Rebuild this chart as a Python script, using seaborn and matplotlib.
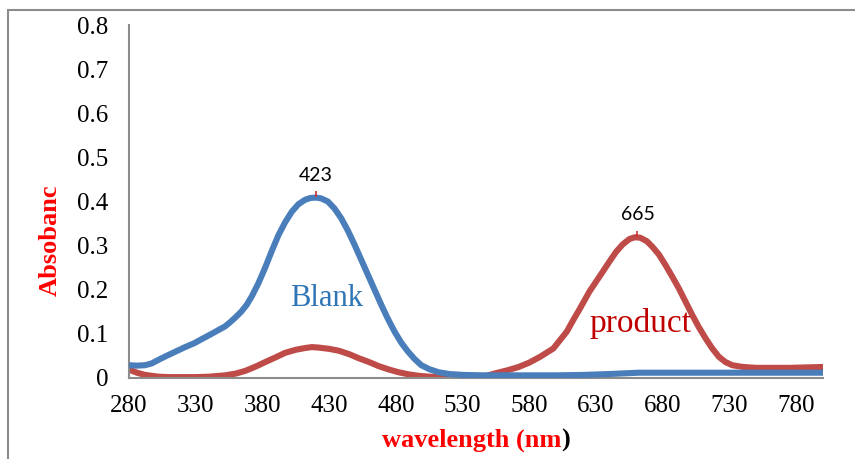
import matplotlib
matplotlib.use("Agg")
import matplotlib.pyplot as plt
import seaborn as sns
import pandas as pd
from matplotlib.patches import Rectangle

# ---- data ----
blank_wl = [280, 286, 292, 297, 302, 308, 315, 322, 329, 335, 340, 346, 352, 356,
            360, 364, 368, 372, 377, 382, 387, 392, 397, 402, 407, 412, 416, 420,
            424, 429, 434, 439, 444, 449, 454, 459, 464, 469, 474, 479, 484, 489,
            494, 499, 505, 512, 520, 530, 545, 560, 580, 600, 620, 640, 662, 680,
            700, 720, 740, 760, 780, 800]
blank_abs = [0.029, 0.028, 0.029, 0.033, 0.041, 0.050, 0.060, 0.070, 0.079, 0.089,
             0.097, 0.107, 0.117, 0.127, 0.138, 0.150, 0.165, 0.185, 0.215, 0.250,
             0.288, 0.324, 0.353, 0.377, 0.394, 0.404, 0.408, 0.409, 0.407, 0.400,
             0.384, 0.362, 0.334, 0.302, 0.268, 0.234, 0.200, 0.166, 0.134, 0.105,
             0.080, 0.060, 0.043, 0.029, 0.020, 0.013, 0.009, 0.007, 0.006, 0.006,
             0.006, 0.006, 0.007, 0.009, 0.012, 0.012, 0.012, 0.012, 0.012, 0.012,
             0.012, 0.012]

product_wl = [280, 286, 292, 302, 310, 320, 330, 340, 352, 360, 367, 375, 382, 390,
              397, 405, 412, 417, 422, 430, 437, 445, 452, 460, 467, 475, 482, 490,
              497, 505, 515, 528, 540, 548, 555, 563, 572, 580, 588, 598, 608, 613,
              618, 625, 635, 640, 645, 650, 655, 659, 663, 668, 672, 677, 682, 687,
              692, 697, 702, 707, 712, 717, 722, 727, 732, 740, 750, 775, 800]
product_abs = [0.019, 0.012, 0.007, 0.003, 0.002, 0.002, 0.002, 0.003, 0.006, 0.010,
               0.016, 0.026, 0.036, 0.047, 0.057, 0.064, 0.068, 0.070, 0.069, 0.066,
               0.062, 0.054, 0.045, 0.036, 0.027, 0.019, 0.013, 0.008, 0.005, 0.003,
               0.002, 0.002, 0.002, 0.005, 0.011, 0.017, 0.025, 0.035, 0.048, 0.067,
               0.105, 0.132, 0.158, 0.196, 0.241, 0.264, 0.286, 0.303, 0.315, 0.319,
               0.318, 0.310, 0.298, 0.280, 0.256, 0.230, 0.203, 0.173, 0.143, 0.115,
               0.090, 0.067, 0.048, 0.036, 0.029, 0.025, 0.023, 0.023, 0.025]

x_ticks = [280, 330, 380, 430, 480, 530, 580, 630, 680, 730, 780]
y_ticks = [0, 0.1, 0.2, 0.3, 0.4, 0.5, 0.6, 0.7, 0.8]
y_tick_labels = ["0", "0.1", "0.2", "0.3", "0.4", "0.5", "0.6", "0.7", "0.8"]

peak_labels = ["423", "665"]
peak_x = [420, 661]
peak_y = [0.409, 0.319]

# ---- styling ----
sns.set_theme(style="white")
plt.rcParams["font.family"] = ["Liberation Serif", "DejaVu Serif"]

BLUE = "#4A7EBB"
RED = "#BE4B48"

fig = plt.figure(figsize=(8.55, 4.59), dpi=100)
fig.patch.set_facecolor("white")
# outer picture frame (partially cropped in reference)
fig.patches.append(Rectangle((8 / 855, -0.1), 1.2, 1.1 - 10 / 459,
                             transform=fig.transFigure, fill=False,
                             edgecolor="#8c8c8c", linewidth=1.5))

ax = fig.add_axes([129 / 855, 1 - 378 / 459, (823 - 129) / 855, (378 - 25) / 459])

df_b = pd.DataFrame({"wl": blank_wl, "A": blank_abs})
df_p = pd.DataFrame({"wl": product_wl, "A": product_abs})
sns.lineplot(data=df_b, x="wl", y="A", ax=ax, color=BLUE, linewidth=4.4,
             solid_capstyle="butt", solid_joinstyle="round", zorder=3)
sns.lineplot(data=df_p, x="wl", y="A", ax=ax, color=RED, linewidth=4.4,
             solid_capstyle="butt", solid_joinstyle="round", zorder=2)

ax.set_xlim(280, 800)
ax.set_ylim(0, 0.8)
ax.set_xticks(x_ticks)
ax.set_xticklabels([str(t) for t in x_ticks])
ax.set_yticks(y_ticks)
ax.set_yticklabels(y_tick_labels)
ax.set_xlabel("")
ax.set_ylabel("")

for s in ["top", "right"]:
    ax.spines[s].set_visible(False)
for s in ["left", "bottom"]:
    ax.spines[s].set_color("#8c8c8c")
    ax.spines[s].set_linewidth(1.5)

ax.tick_params(axis="both", direction="in", length=6, width=1.2, color="#8c8c8c",
               labelsize=18, labelcolor="black")
ax.tick_params(axis="y", pad=15)
ax.tick_params(axis="x", pad=12)

# peak annotations
for lab, px, py in zip(peak_labels, peak_x, peak_y):
    ax.annotate(lab, (px, py), xytext=(0, 10), textcoords="offset points",
                ha="center", va="bottom", fontsize=14, color="black",
                family=["Lato", "DejaVu Sans"])
    ax.plot([px], [py + 0.008], marker="|", color="#d03030", markersize=4,
            markeredgewidth=1.2, zorder=4)

# series labels
ax.text(428, 0.181, "Blank", color="#2E75B6", fontsize=22, ha="center",
        va="center", family=["Liberation Serif"])
ax.text(663, 0.124, "product", color="#C00000", fontsize=24, ha="center",
        va="center", family=["Liberation Serif"])

# axis titles
t1 = fig.text(0, 0, "wavelength (nm", color="red", fontsize=19,
              fontweight="bold", va="center", family=["Liberation Serif"])
t2 = fig.text(0, 0, ")", color="black", fontsize=19, fontweight="bold",
              va="center", family=["Liberation Serif"])
fig.canvas.draw()
r = fig.canvas.get_renderer()
bb1 = t1.get_window_extent(renderer=r)
bb2 = t2.get_window_extent(renderer=r)
total = bb1.width + bb2.width
x0 = 476 - total / 2
ypos = 1 - 440 / 459
t1.set_position((x0 / 855, ypos))
t2.set_position(((x0 + bb1.width) / 855, ypos))

fig.text(50 / 855, 1 - 240 / 459, "Absobanc", color="red", fontsize=19,
         fontweight="bold", rotation=90, ha="center", va="center",
         family=["Liberation Serif"])

fig.savefig("out.png", dpi=100, facecolor="white")
